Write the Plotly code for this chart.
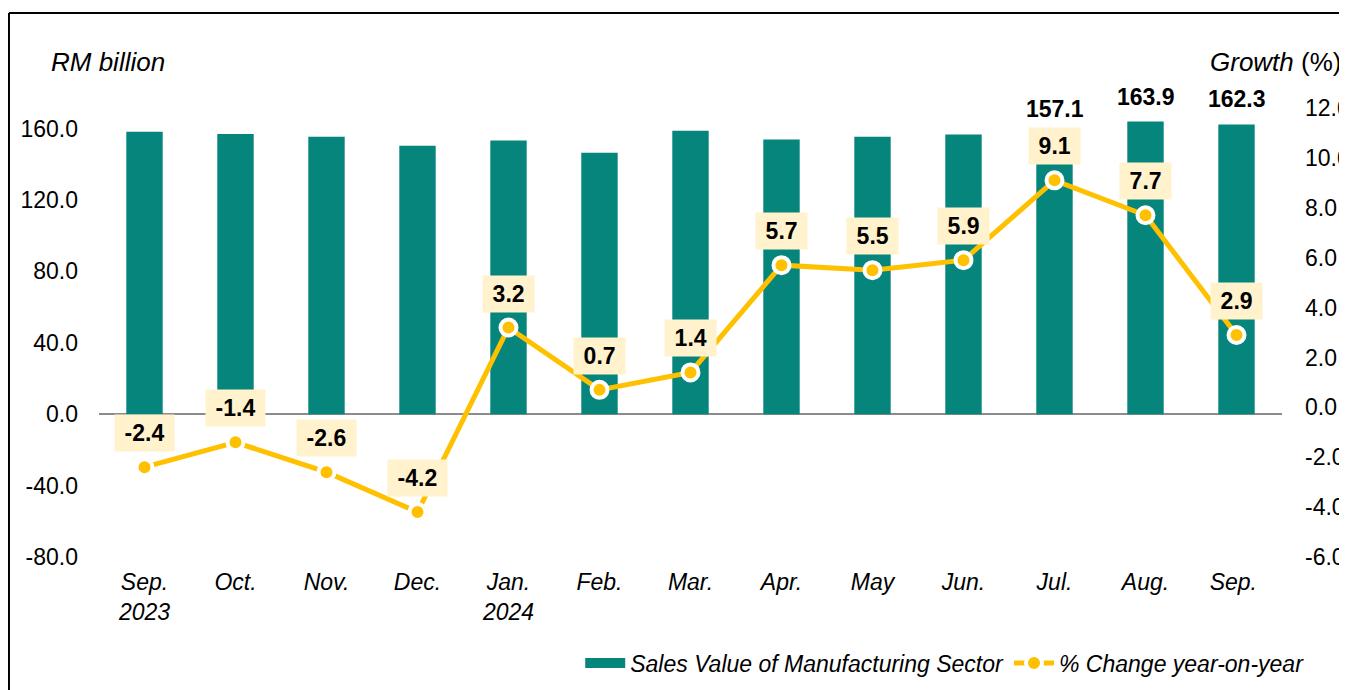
import plotly.graph_objects as go

# monthly manufacturing sales, Sep 2023 - Sep 2024
months = ["Sep.<br>2023", "Oct.", "Nov.", "Dec.", "Jan.<br>2024", "Feb.", "Mar.",
          "Apr.", "May", "Jun.", "Jul.", "Aug.", "Sep. "]
sales = [158.2, 157.0, 155.4, 150.3, 153.3, 146.5, 158.8, 153.8, 155.4, 156.6, 157.1, 163.9, 162.3]
growth = [-2.4, -1.4, -2.6, -4.2, 3.2, 0.7, 1.4, 5.7, 5.5, 5.9, 9.1, 7.7, 2.9]
sales_labelled = [False] * 10 + [True, True, True]

left_ticks = [-80, -40, 0, 40, 80, 120, 160]
right_ticks = [-6, -4, -2, 0, 2, 4, 6, 8, 10, 12]

teal = "#05857C"
gold = "#FFC000"
font = "Liberation Sans, Arial, sans-serif"
fs = 23

fig = go.Figure()

fig.add_trace(go.Bar(
    x=months, y=sales, name="Sales Value of Manufacturing Sector",
    marker=dict(color=teal, line=dict(width=0)),
    width=0.4, hoverinfo="skip", showlegend=False
))
# legend proxy so the swatch is a wide block like the original
fig.add_trace(go.Scatter(
    x=[None], y=[None], name="Sales Value of Manufacturing Sector",
    mode="lines", line=dict(color=teal, width=12)
))

fig.add_trace(go.Scatter(
    x=months, y=growth, name="% Change year-on-year", yaxis="y2",
    mode="lines+markers",
    line=dict(color=gold, width=5),
    marker=dict(color=gold, size=16, line=dict(color="white", width=4)),
    hoverinfo="skip"
))

# value labels for the last three bars
for m, v, show in zip(months, sales, sales_labelled):
    if show:
        fig.add_annotation(x=m, y=v, yref="y", text="<b>%.1f</b>" % v,
                           showarrow=False, yanchor="middle", yshift=25,
                           font=dict(family=font, size=fs, color="black"))

# boxed labels for growth
for m, g in zip(months, growth):
    fig.add_annotation(x=m, y=g, yref="y2", text="<b>\u2009%.1f\u2009</b>" % g,
                       showarrow=False, yanchor="middle", yshift=34,
                       bgcolor="#FFF2CC", borderpad=5,
                       font=dict(family=font, size=fs, color="black"))

# axis titles
fig.add_annotation(xref="paper", yref="paper", x=-0.0423, y=1.102, xanchor="left",
                   yanchor="middle", text="<i>RM billion</i>", showarrow=False,
                   font=dict(family=font, size=26, color="black"))
fig.add_annotation(xref="paper", yref="paper", x=1.0515, y=1.102, xanchor="right",
                   yanchor="middle", text="<i>Growth</i> (%)", showarrow=False,
                   font=dict(family=font, size=26, color="black"))

# outer frame (top and left edges visible)
fig.add_shape(type="line", xref="paper", yref="paper", x0=-0.0761, x1=1.2,
              y0=1.2116, y1=1.2116, line=dict(color="black", width=2))
fig.add_shape(type="line", xref="paper", yref="paper", x0=-0.0761, x1=-0.0761,
              y0=-0.4, y1=1.2116, line=dict(color="black", width=2))

fig.update_layout(
    width=1339, height=682,
    margin=dict(l=91, r=65, t=100, b=133, autoexpand=False),
    paper_bgcolor="white", plot_bgcolor="white",
    font=dict(family=font, size=fs, color="black"),
    showlegend=True,
    legend=dict(orientation="h", x=1.023, xanchor="right", y=-0.236, yanchor="middle",
                font=dict(family=font, size=fs, style="italic"),
                bgcolor="rgba(0,0,0,0)", itemwidth=40),
    xaxis=dict(range=[-0.5, 12.5], showline=False, ticks="", showgrid=False,
               tickfont=dict(family=font, size=fs, style="italic"),
               ticklabelstandoff=9),
    yaxis=dict(range=[-80, 171.5], tickvals=left_ticks,
               ticktext=["%.1f" % v for v in left_ticks],
               showgrid=False, showline=False, ticks="",
               zeroline=True, zerolinecolor="#8c8c8c", zerolinewidth=2,
               ticklabelstandoff=20, tickfont=dict(size=fs)),
    yaxis2=dict(range=[-6, 12], tickvals=right_ticks,
                ticktext=["%.1f" % v for v in right_ticks],
                overlaying="y", side="right", showgrid=False, showline=False,
                ticks="", zeroline=False, ticklabelstandoff=22,
                tickfont=dict(size=fs)),
)

fig.write_html("out.html")
